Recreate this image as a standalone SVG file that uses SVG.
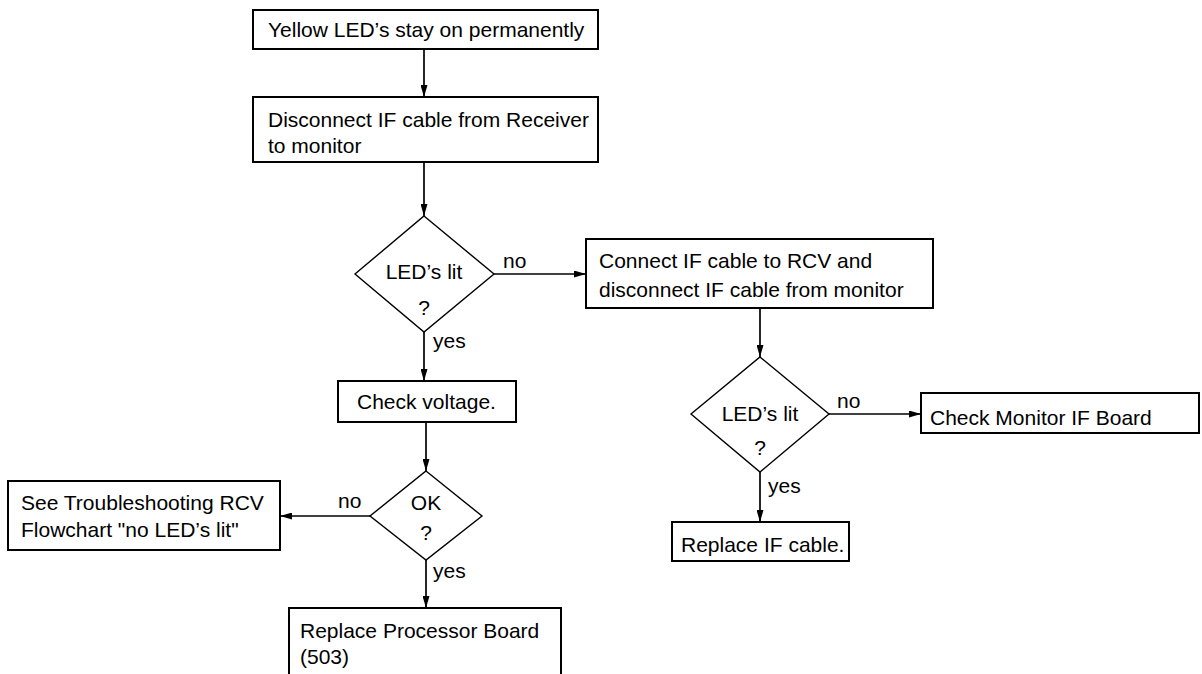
<svg xmlns="http://www.w3.org/2000/svg" width="1202" height="674" viewBox="0 0 1202 674">
<style>
.box{fill:#fff;stroke:#000;stroke-width:2}
.dia{fill:#fff;stroke:#000;stroke-width:1.4}
.t{font-family:"Liberation Sans",Arial,sans-serif;font-size:21px;fill:#000}
.c{text-anchor:middle}
.ln{fill:none;stroke:#000;stroke-width:1.7}
</style>
<defs>
<marker id="ah" markerWidth="12" markerHeight="7" refX="12" refY="3.5" orient="auto" markerUnits="userSpaceOnUse">
<path d="M0,0 L12,3.5 L0,7 Z" fill="#000"/>
</marker>
</defs>
<rect width="1202" height="674" fill="#fff"/>
<g id="connectors">
<line class="ln" x1="424" y1="49" x2="424" y2="97" marker-end="url(#ah)"/>
<line class="ln" x1="424" y1="162" x2="424" y2="216" marker-end="url(#ah)"/>
<line class="ln" x1="494" y1="274" x2="586" y2="274" marker-end="url(#ah)"/>
<line class="ln" x1="424" y1="332" x2="424" y2="381" marker-end="url(#ah)"/>
<line class="ln" x1="760" y1="308" x2="760" y2="357" marker-end="url(#ah)"/>
<line class="ln" x1="829" y1="414" x2="921" y2="414" marker-end="url(#ah)"/>
<line class="ln" x1="760" y1="472" x2="760" y2="522" marker-end="url(#ah)"/>
<line class="ln" x1="426" y1="422" x2="426" y2="471" marker-end="url(#ah)"/>
<line class="ln" x1="370" y1="516" x2="280" y2="516" marker-end="url(#ah)"/>
<line class="ln" x1="426" y1="560" x2="426" y2="608" marker-end="url(#ah)"/>
<text class="t" x="503" y="268">no</text>
<text class="t" x="433" y="348">yes</text>
<text class="t" x="837" y="408">no</text>
<text class="t" x="768" y="493">yes</text>
<text class="t" x="338" y="508">no</text>
<text class="t" x="433" y="578">yes</text>
</g>
<g id="n1">
<rect class="box" x="253" y="10" width="345" height="39"/>
<text class="t" x="268" y="37">Yellow LED’s stay on permanently</text>
</g>
<g id="n2">
<rect class="box" x="253" y="97" width="345" height="65"/>
<text class="t" x="268" y="127">Disconnect IF cable from Receiver</text>
<text class="t" x="268" y="153">to monitor</text>
</g>
<g id="d1">
<polygon class="dia" points="424,216 494,274 424,332 355,274"/>
<text class="t c" x="424" y="279">LED’s lit</text>
<text class="t c" x="424" y="315">?</text>
</g>
<g id="n3">
<rect class="box" x="586" y="239" width="347" height="69"/>
<text class="t" x="599" y="268">Connect IF cable to RCV and</text>
<text class="t" x="599" y="297">disconnect IF cable from monitor</text>
</g>
<g id="d2">
<polygon class="dia" points="760,357 829,414 760,472 691,414"/>
<text class="t c" x="760" y="421">LED’s lit</text>
<text class="t c" x="760" y="455">?</text>
</g>
<g id="n4">
<rect class="box" x="921" y="393" width="278" height="40"/>
<text class="t" x="930" y="425">Check Monitor IF Board</text>
</g>
<g id="n5">
<rect class="box" x="672" y="522" width="177" height="39"/>
<text class="t" x="681" y="552">Replace IF cable.</text>
</g>
<g id="n6">
<rect class="box" x="338" y="381" width="178" height="41"/>
<text class="t" x="357" y="409">Check voltage.</text>
</g>
<g id="d3">
<polygon class="dia" points="426,471 482,516 426,560 370,516"/>
<text class="t c" x="426" y="510">OK</text>
<text class="t c" x="426" y="540">?</text>
</g>
<g id="n7">
<rect class="box" x="8" y="481" width="272" height="69"/>
<text class="t" x="21" y="510">See Troubleshooting RCV</text>
<text class="t" x="21" y="537">Flowchart "no LED’s lit"</text>
</g>
<g id="n8">
<rect class="box" x="289" y="608" width="272" height="80"/>
<text class="t" x="300" y="638">Replace Processor Board</text>
<text class="t" x="300" y="664">(503)</text>
</g>
</svg>
